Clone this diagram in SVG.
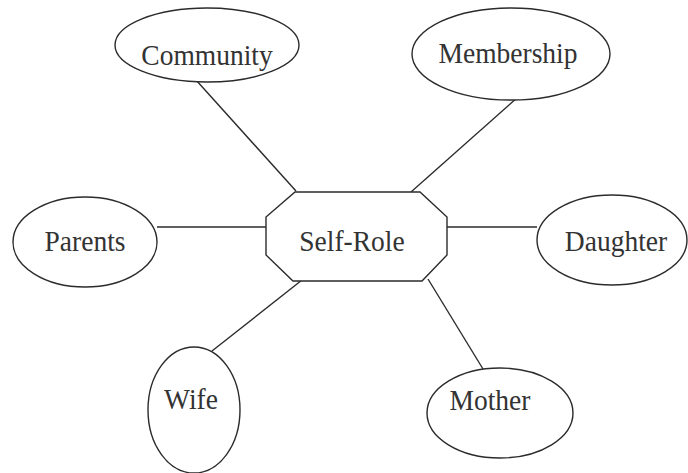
<svg xmlns="http://www.w3.org/2000/svg" width="688" height="473" viewBox="0 0 688 473">
<style>
.shape{fill:#fff;stroke:#2b2b2b;stroke-width:1.4}
.conn line{stroke:#2b2b2b;stroke-width:1.4}
.lbl{font-family:'Liberation Serif','Times New Roman',Times,serif;font-size:27.5px;fill:#333;text-anchor:middle}
</style>
<rect width="688" height="473" fill="#fff"/>
<g id="connectors" class="conn">
<line x1="196" y1="80" x2="296" y2="191"/>
<line x1="518" y1="97" x2="411" y2="192"/>
<line x1="157" y1="227" x2="266" y2="227"/>
<line x1="447" y1="227" x2="537" y2="227"/>
<line x1="302" y1="280" x2="212" y2="351"/>
<line x1="428" y1="279" x2="483" y2="369"/>
</g>
<g id="self-role">
<polygon class="shape" points="295,192 420,192 447,217 447,255 422,281 293,281 266,255 266,217"/>
<text class="lbl" font-family="Liberation Serif, serif" transform="translate(352,251) scale(1,1.08)">Self-Role</text>
</g>
<g id="community">
<ellipse class="shape" cx="207" cy="45" rx="92" ry="37"/>
<text class="lbl" font-family="Liberation Serif, serif" transform="translate(207,65) scale(1,1.08)">Community</text>
</g>
<g id="membership">
<ellipse class="shape" cx="511" cy="54" rx="99" ry="46"/>
<text class="lbl" font-family="Liberation Serif, serif" transform="translate(508,63) scale(1,1.08)">Membership</text>
</g>
<g id="parents">
<ellipse class="shape" cx="85" cy="242" rx="72" ry="45"/>
<text class="lbl" font-family="Liberation Serif, serif" transform="translate(85,251) scale(1,1.08)">Parents</text>
</g>
<g id="daughter">
<ellipse class="shape" cx="612" cy="240" rx="75" ry="45"/>
<text class="lbl" font-family="Liberation Serif, serif" transform="translate(616,251) scale(1,1.08)">Daughter</text>
</g>
<g id="wife">
<ellipse class="shape" cx="194" cy="410" rx="46" ry="63"/>
<text class="lbl" font-family="Liberation Serif, serif" transform="translate(191,409) scale(1,1.08)">Wife</text>
</g>
<g id="mother">
<ellipse class="shape" cx="500" cy="413" rx="73" ry="45"/>
<text class="lbl" font-family="Liberation Serif, serif" transform="translate(490,410) scale(1,1.08)">Mother</text>
</g>
</svg>
